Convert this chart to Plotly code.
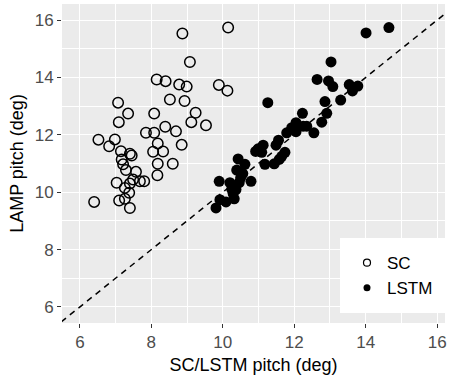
import plotly.graph_objects as go

# SC (open circles)
sc_x = [8.87, 10.15, 9.08, 8.15, 8.40, 8.78, 8.99, 9.89, 10.13, 8.52,
        8.93, 7.07, 7.35, 8.08, 9.24, 7.09, 9.12, 9.53, 8.39, 7.85,
        8.08, 8.69, 6.52, 6.98, 6.82, 8.18, 8.85, 7.15, 8.05, 8.33,
        7.40, 7.45, 7.17, 7.21, 8.18, 8.60, 7.29, 7.57, 8.17, 7.49,
        7.68, 7.80, 7.03, 7.40, 7.26, 7.38, 6.40, 7.10, 7.26, 7.40]
sc_y = [15.53, 15.74, 14.54, 13.93, 13.87, 13.75, 13.68, 13.74, 13.54, 13.23,
        13.18, 13.12, 12.74, 12.74, 12.77, 12.44, 12.44, 12.33, 12.28, 12.07,
        12.07, 12.12, 11.83, 11.84, 11.60, 11.70, 11.65, 11.43, 11.41, 11.42,
        11.34, 11.28, 11.14, 10.97, 10.99, 10.99, 10.77, 10.71, 10.59, 10.44,
        10.38, 10.38, 10.33, 10.30, 10.15, 9.98, 9.66, 9.71, 9.77, 9.45]

# LSTM (filled circles)
lstm_x = [14.65, 14.01, 13.03, 12.64, 12.96, 13.08, 13.54, 13.78, 13.63, 13.30,
          12.86, 11.26, 12.23, 12.91, 12.77, 12.05, 12.25, 11.93, 12.05, 11.79,
          12.55, 11.56, 11.49, 11.13, 10.99, 10.92, 11.09, 11.74, 11.65, 11.58,
          11.18, 11.44, 10.43, 10.62, 10.39, 10.56, 10.79, 9.90, 10.20, 10.46,
          10.37, 10.29, 9.92, 10.09, 10.32, 9.81, 10.25, 12.35, 10.50, 11.00]
lstm_y = [15.74, 15.55, 14.54, 13.93, 13.88, 13.68, 13.75, 13.70, 13.53, 13.21,
          13.16, 13.12, 12.75, 12.75, 12.44, 12.42, 12.30, 12.25, 12.11, 12.07,
          12.07, 11.81, 11.64, 11.64, 11.51, 11.42, 11.39, 11.39, 11.25, 11.14,
          10.97, 10.99, 11.16, 10.97, 10.77, 10.65, 10.38, 10.38, 10.33, 10.33,
          10.09, 9.95, 9.74, 9.66, 9.77, 9.45, 10.10, 12.30, 10.50, 11.50]

identity = [5, 17]
x_ticks = [6, 8, 10, 12, 14, 16]
y_ticks = [6, 8, 10, 12, 14, 16]
minor_ticks = [7, 9, 11, 13, 15]
x_range = [5.5, 16.22]
y_range = [5.44, 16.56]

font_family = "Liberation Sans, Arial, sans-serif"

fig = go.Figure()

fig.add_trace(go.Scatter(x=identity, y=identity, mode="lines",
                         line=dict(color="black", width=1.5, dash="6px,5px"),
                         showlegend=False, hoverinfo="skip"))

fig.add_trace(go.Scatter(x=sc_x, y=sc_y, mode="markers", name="SC",
                         marker=dict(symbol="circle-open", size=10.5, color="black",
                                     line=dict(width=1.5, color="black")),
                         showlegend=False))
fig.add_trace(go.Scatter(x=lstm_x, y=lstm_y, mode="markers", name="LSTM",
                         marker=dict(symbol="circle", size=11, color="black"),
                         showlegend=False))

# legend keys
fig.add_trace(go.Scatter(x=[None], y=[None], mode="markers", name="SC",
                         marker=dict(symbol="circle-open", size=7, color="black",
                                     line=dict(width=1.2, color="black"))))
fig.add_trace(go.Scatter(x=[None], y=[None], mode="markers", name="LSTM",
                         marker=dict(symbol="circle", size=7, color="black")))

axis_common = dict(
    showgrid=True, gridcolor="white", gridwidth=1.2,
    zeroline=False, showline=False,
    ticks="outside", ticklen=4, tickwidth=1, tickcolor="#333333",
    tickfont=dict(size=17, color="#4D4D4D", family=font_family),
)

fig.update_xaxes(range=x_range, tickvals=x_ticks,
                 minor=dict(tickvals=minor_ticks, showgrid=True,
                            gridcolor="white", gridwidth=0.6, ticks=""),
                 title=dict(text="SC/LSTM pitch (deg)", standoff=6,
                            font=dict(size=18, color="black", family=font_family)),
                 **axis_common)
fig.update_yaxes(range=y_range, tickvals=y_ticks,
                 minor=dict(tickvals=minor_ticks, showgrid=True,
                            gridcolor="white", gridwidth=0.6, ticks=""),
                 title=dict(text="LAMP pitch (deg)", standoff=6,
                            font=dict(size=18, color="black", family=font_family)),
                 **axis_common)

fig.update_layout(
    width=453, height=377,
    margin=dict(l=62, r=8, t=4, b=54),
    paper_bgcolor="white", plot_bgcolor="#EBEBEB",
    font=dict(family=font_family),
    legend=dict(x=1, xanchor="right", y=0.031, yanchor="bottom",
                bgcolor="white", bordercolor="white", borderwidth=7,
                font=dict(size=17, color="black"),
                itemsizing="trace", tracegroupgap=0),
)

fig.write_html("out.html")
